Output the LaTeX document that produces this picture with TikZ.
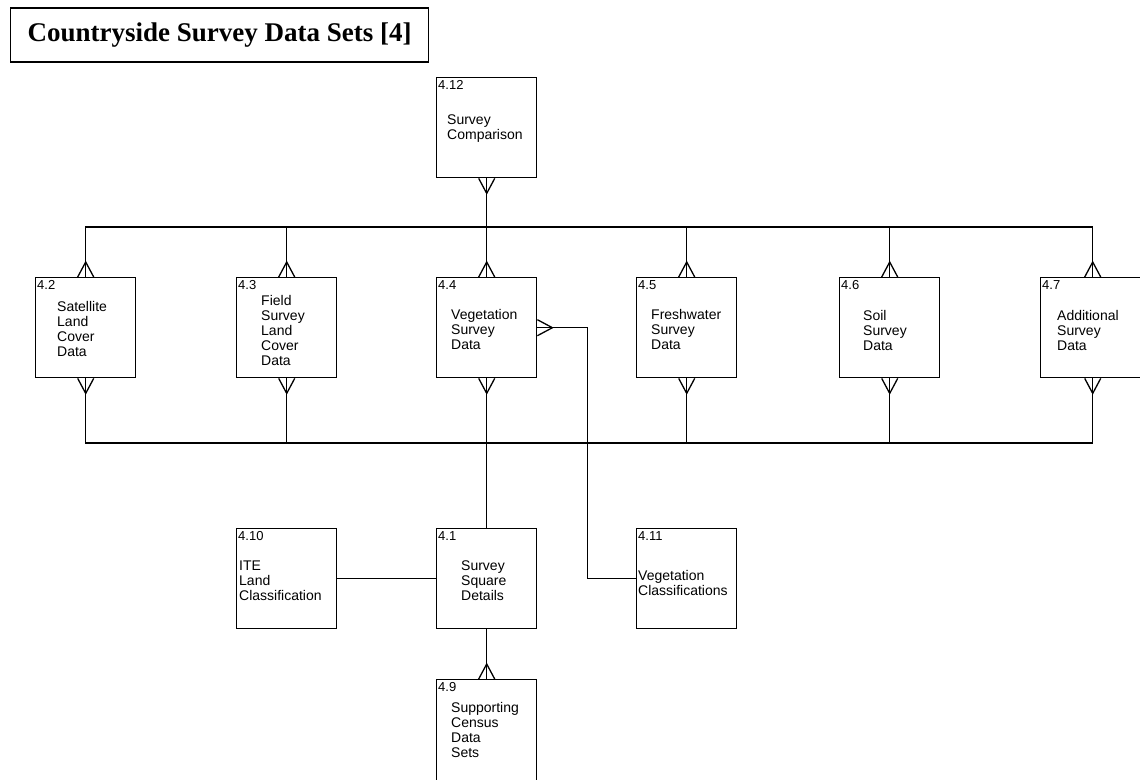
\documentclass[tikz,border=0pt]{standalone}
\usepackage{fontspec}
\setmainfont{Liberation Sans}
\newfontfamily\titlefont{Liberation Serif}
\usetikzlibrary{calc}

\tikzset{
  entity/.style={draw, line width=1.4pt, anchor=north west, inner sep=0pt,
    minimum width=100pt, minimum height=100pt},
  reflabel/.style={anchor=north west, inner sep=0pt, font=\fontsize{13}{13}\selectfont},
  entitytext/.style={anchor=north west, inner sep=0pt, align=left,
    font=\fontsize{14}{15}\selectfont},
  link/.style={line width=1.3pt},
  crowfoot/.pic={\draw[link] (-8,0) -- (0,-15) -- (8,0);}
}

\begin{document}
\begin{tikzpicture}[x=1pt, y=-1pt]
\useasboundingbox (0,0) rectangle (1140,779);

% Title
\node[draw, line width=1.4pt, anchor=west, inner xsep=17pt, minimum height=54pt,
  font=\titlefont\bfseries\fontsize{27}{27}\selectfont] (title) at (10,35)
  {Countryside Survey Data Sets [4]};

% 4.12 Survey Comparison
\node[entity] (b412) at (436,77) {};
\node[reflabel] (n412) at ($(b412.north west)+(2,3)$) {4.12};
\node[entitytext] (t412) at ($(b412.north west)+(11,38)$) {Survey\\Comparison};

% 4.2 Satellite
\node[entity] (b42) at (35,277) {};
\node[reflabel] (n42) at ($(b42.north west)+(2,3)$) {4.2};
\node[entitytext] (t42) at ($(b42.north west)+(22,24)$) {Satellite\\Land\\Cover\\Data};

% 4.3 Field Survey
\node[entity] (b43) at (236,277) {};
\node[reflabel] (n43) at ($(b43.north west)+(2,3)$) {4.3};
\node[entitytext] (t43) at ($(b43.north west)+(25,18)$) {Field\\Survey\\Land\\Cover\\Data};

% 4.4 Vegetation
\node[entity] (b44) at (436,277) {};
\node[reflabel] (n44) at ($(b44.north west)+(2,3)$) {4.4};
\node[entitytext] (t44) at ($(b44.north west)+(15,32)$) {Vegetation\\Survey\\Data};

% 4.5 Freshwater
\node[entity] (b45) at (636,277) {};
\node[reflabel] (n45) at ($(b45.north west)+(2,3)$) {4.5};
\node[entitytext] (t45) at ($(b45.north west)+(15,32)$) {Freshwater\\Survey\\Data};

% 4.6 Soil
\node[entity] (b46) at (839,277) {};
\node[reflabel] (n46) at ($(b46.north west)+(2,3)$) {4.6};
\node[entitytext] (t46) at ($(b46.north west)+(24,33)$) {Soil\\Survey\\Data};

% 4.7 Additional
\node[entity, minimum width=104pt] (b47) at (1040,277) {};
\node[reflabel] (n47) at ($(b47.north west)+(2,3)$) {4.7};
\node[entitytext] (t47) at ($(b47.north west)+(17,33)$) {Additional\\Survey\\Data};

% 4.10 ITE Land Classification
\node[entity] (b410) at (236,528) {};
\node[reflabel] (n410) at ($(b410.north west)+(2,3)$) {4.10};
\node[entitytext] (t410) at ($(b410.north west)+(3,33)$) {ITE\\Land\\Classification};

% 4.1 Survey Square
\node[entity] (b41) at (436,528) {};
\node[reflabel] (n41) at ($(b41.north west)+(2,3)$) {4.1};
\node[entitytext] (t41) at ($(b41.north west)+(25,33)$) {Survey\\Square\\Details};

% 4.11 Vegetation Classifications
\node[entity] (b411) at (636,528) {};
\node[reflabel] (n411) at ($(b411.north west)+(2,3)$) {4.11};
\node[entitytext] (t411) at ($(b411.north west)+(2,42)$) {Vegetation\\Classifications};

% 4.9 Supporting Census
\node[entity, minimum height=110pt] (b49) at (436,679) {};
\node[reflabel] (n49) at ($(b49.north west)+(2,3)$) {4.9};
\node[entitytext] (t49) at ($(b49.north west)+(15,23)$) {Supporting\\Census\\Data\\Sets};

% Buses
\coordinate (upbus) at (0,227);
\coordinate (lowbus) at (0,443);

\draw[link] (b42.north) -- (b42.north |- upbus) -- (b47.north |- upbus) -- (b47.north);
\foreach \b in {b43,b45,b46}
  \draw[link] (\b.north) -- (\b.north |- upbus);
\draw[link] (b412.south) -- (b44.north);

\draw[link] (b42.south) -- (b42.south |- lowbus) -- (b47.south |- lowbus) -- (b47.south);
\foreach \b in {b43,b45,b46}
  \draw[link] (\b.south) -- (\b.south |- lowbus);
\draw[link] (b44.south) -- (b41.north);

% Other links
\draw[link] (b44.east) -- ++(50,0) |- (b411.west);
\draw[link] (b410.east) -- (b41.west);
\draw[link] (b41.south) -- (b49.north);

% Crow's feet
\foreach \b in {b42,b43,b44,b45,b46,b47} {
  \pic at (\b.north) {crowfoot};
  \pic[rotate=180] at (\b.south) {crowfoot};
}
\pic[rotate=180] at (b412.south) {crowfoot};
\pic[rotate=-90] at (b44.east) {crowfoot};
\pic at (b49.north) {crowfoot};

\end{tikzpicture}
\end{document}
